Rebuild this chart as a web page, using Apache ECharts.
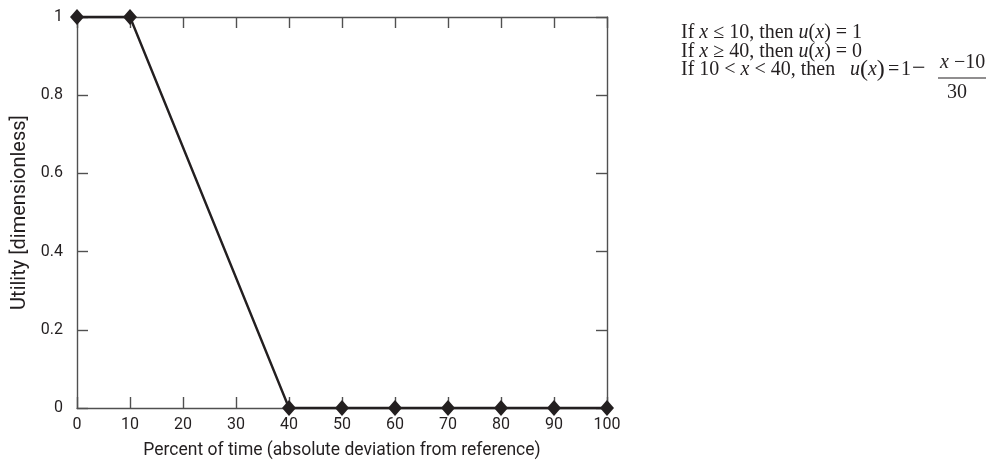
<!DOCTYPE html>
<html><head><meta charset="utf-8">
<script src="https://cdn.jsdelivr.net/npm/echarts@6/dist/echarts.min.js"></script>
<style>html,body{margin:0;padding:0;background:#fff}#c{width:986px;height:472px}</style>
</head><body><div id="c"></div>
<script>
const xValues = [0, 10, 40, 50, 60, 70, 80, 90, 100];
const utility = [1, 1, 0, 0, 0, 0, 0, 0, 0];
const xTicks = [0, 10, 20, 30, 40, 50, 60, 70, 80, 90, 100];
const yTicks = [0, 0.2, 0.4, 0.6, 0.8, 1];
const xTitle = 'Percent of time (absolute deviation from reference)';
const yTitle = 'Utility [dimensionless]';

const font = '"Roboto", "Liberation Sans", sans-serif';
const serif = '"Liberation Serif", "Times New Roman", serif';
const axisCol = '#505050';
const ink = '#231f20';

const chart = echarts.init(document.getElementById('c'), null, {renderer: 'canvas'});
const common = {
  min: 0,
  axisLine: {show: true, onZero: false, lineStyle: {color: axisCol, width: 1.4}},
  axisTick: {show: true, inside: true, length: 11, lineStyle: {color: axisCol, width: 1.4}},
  splitLine: {show: false}
};
const it = {fontStyle: 'italic', fontFamily: serif, fontSize: 20, fill: ink};
const txt = (x, y, text, extra) => ({type: 'text', x: x, y: y, style: Object.assign({
  text: text, fontFamily: serif, fontSize: 20, fill: ink, verticalAlign: 'middle', rich: {i: it}}, extra || {})});
chart.setOption({
  animation: false,
  grid: {left: 77, top: 17, width: 530, height: 391, containLabel: false},
  xAxis: [
    Object.assign({}, common, {type: 'value', max: 100, interval: 10, position: 'bottom',
      axisLabel: {show: true, color: ink, fontFamily: font, fontSize: 16, margin: 9,
        formatter: v => xTicks.includes(v) ? String(v) : ''},
      name: xTitle, nameLocation: 'middle', nameGap: 34,
      nameTextStyle: {color: ink, fontFamily: font, fontSize: 17.5}}),
    Object.assign({}, common, {type: 'value', max: 100, interval: 10, position: 'top',
      axisLabel: {show: false}})
  ],
  yAxis: [
    Object.assign({}, common, {type: 'value', max: 1, interval: 0.2, position: 'left',
      axisLabel: {show: true, color: ink, fontFamily: font, fontSize: 16, margin: 14,
        formatter: v => { const t = yTicks.find(y => Math.abs(y - v) < 1e-9); return t === undefined ? '' : String(+t.toFixed(1)); }},
      name: yTitle, nameLocation: 'middle', nameGap: 44,
      nameTextStyle: {color: ink, fontFamily: font, fontSize: 20}}),
    Object.assign({}, common, {type: 'value', max: 1, interval: 0.2, position: 'right',
      axisLabel: {show: false}})
  ],
  series: [{
    type: 'line',
    data: xValues.map((x, i) => [x, utility[i]]),
    symbol: 'diamond', symbolSize: [14, 16],
    lineStyle: {color: ink, width: 2.4},
    itemStyle: {color: ink},
    clip: false,
    z: 5
  }],
  graphic: [
    txt(681, 33, 'If {i|x} ≤ 10, then {i|u}({i|x}) = 1'),
    txt(681, 51.5, 'If {i|x} ≥ 40, then {i|u}({i|x}) = 0'),
    txt(681, 69.5, 'If 10 < {i|x} < 40, then'),
    txt(850, 69.5, '{i|u}{p|(}{i|x}{p|)}', {rich: {i: it, p: {fontFamily: serif, fontSize: 24, fill: ink}}}),
    txt(888, 69.5, '='),
    txt(901, 69.5, '1'),
    txt(912, 68.5, '−', {fontSize: 24}),
    txt(940, 62.5, '{i|x} −10'),
    {type: 'line', shape: {x1: 938, y1: 78, x2: 988, y2: 78}, style: {stroke: ink, lineWidth: 1.2}},
    txt(947, 92.5, '30')
  ]
});
</script></body></html>
